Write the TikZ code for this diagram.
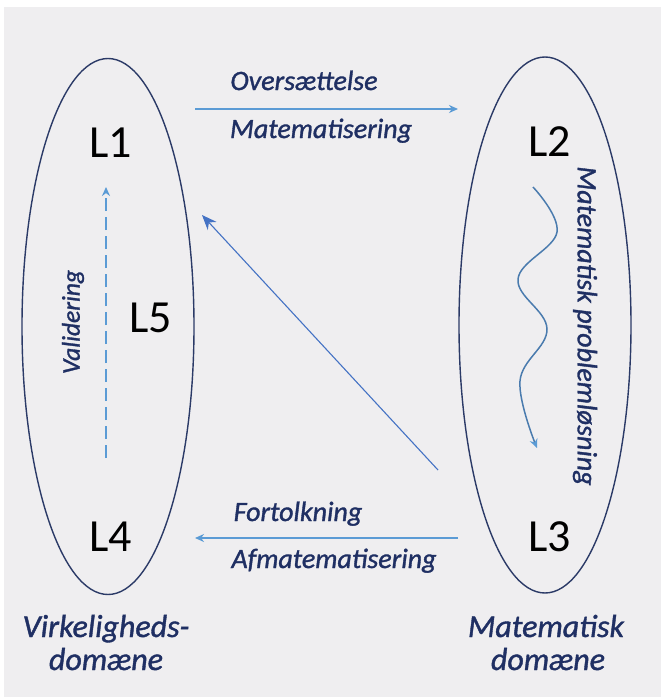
\documentclass[tikz,border=0pt]{standalone}
\usepackage{fontspec}
\setmainfont{Carlito}[ItalicFeatures={FakeBold=1.2}]
\usetikzlibrary{arrows.meta,shapes.geometric}
\definecolor{bg}{HTML}{EFEEF0}
\definecolor{navy}{HTML}{2B3A67}
\definecolor{txt}{HTML}{1F2F63}
\definecolor{lblue}{HTML}{5B9BD5}
\definecolor{mblue}{HTML}{4472C4}
\definecolor{wblue}{HTML}{4A7BAE}
\tikzset{
  domainbox/.style={draw=navy, line width=1.4pt, ellipse, minimum width=172pt, minimum height=536pt, inner sep=0pt},
  lvl/.style={font=\fontsize{46}{46}\selectfont, text=black, inner sep=0pt},
  lab/.style={font=\fontsize{28}{30}\selectfont\itshape, text=txt, inner sep=0pt, anchor=base},
  vlab/.style={font=\fontsize{28}{30}\selectfont\itshape, text=txt, inner sep=0pt},
  blab/.style={font=\fontsize{32}{34}\selectfont\itshape, text=txt, inner sep=0pt, anchor=base},
  harrow/.style={draw=lblue, line width=1.6pt, -{Stealth[length=9pt,width=8pt]}},
  diag/.style={draw=mblue, line width=1.1pt, -{Stealth[length=15pt,width=12pt]}},
  varrow/.style={draw=lblue, line width=1.6pt, dash pattern=on 13pt off 6pt, -{Stealth[length=9pt,width=8pt]}},
  wave/.style={draw=wblue, line width=1.5pt, -{Stealth[length=9pt,width=8pt,color=lblue]}}
}
\begin{document}
\begin{tikzpicture}[x=1pt,y=-1pt]
\useasboundingbox (0,0) rectangle (661,697);
\fill[white] (0,0) rectangle (661,697);
\fill[bg] (4,7) rectangle (661,697);
\node[domainbox] (left) at (108,326.5) {};
\node[domainbox] (right) at (545,325) {};
\node[lvl] (L1) at (111,143) {L1};
\node[lvl] (L2) at (550,142) {L2};
\node[lvl] (L3) at (550,537) {L3};
\node[lvl] (L4) at (111,537) {L4};
\node[lvl] (L5) at (151,318) {L5};
\node[lab] (overs) at (304,90) {Oversættelse};
\node[lab] (matem) at (321,138) {Matematisering};
\node[lab] (fort) at (298,521) {Fortolkning};
\node[lab] (afmat) at (334,568) {Afmatematisering};
\node[vlab, font=\fontsize{25.5}{28}\selectfont\itshape, rotate=90] (valid) at (73,322) {Validering};
\node[vlab, rotate=-90] (mpl) at (585,326) {Matematisk problemløsning};
\node[blab] (vd1) at (106,637) {Virkeligheds-};
\node[blab] (vd2) at (106,670) {domæne};
\node[blab] (md1) at (546,637) {Matematisk};
\node[blab] (md2) at (548,670) {domæne};
\coordinate (a1s) at (195,109);
\coordinate (a1e) at (458,109);
\coordinate (a2s) at (458,538);
\coordinate (a2e) at (195,538);
\coordinate (ds) at (438,470);
\coordinate (de) at (202,215);
\coordinate (vs) at (106,458);
\coordinate (ve) at (106,187);
\draw[harrow] (a1s) -- (a1e);
\draw[harrow] (a2s) -- (a2e);
\draw[diag] (ds) -- (de);
\draw[varrow] (vs) -- (ve);
\draw[wave] plot[smooth, tension=0.65] coordinates {(533,187) (557,232) (518,279) (547,329) (520,381) (537,448)};
\end{tikzpicture}
\end{document}
